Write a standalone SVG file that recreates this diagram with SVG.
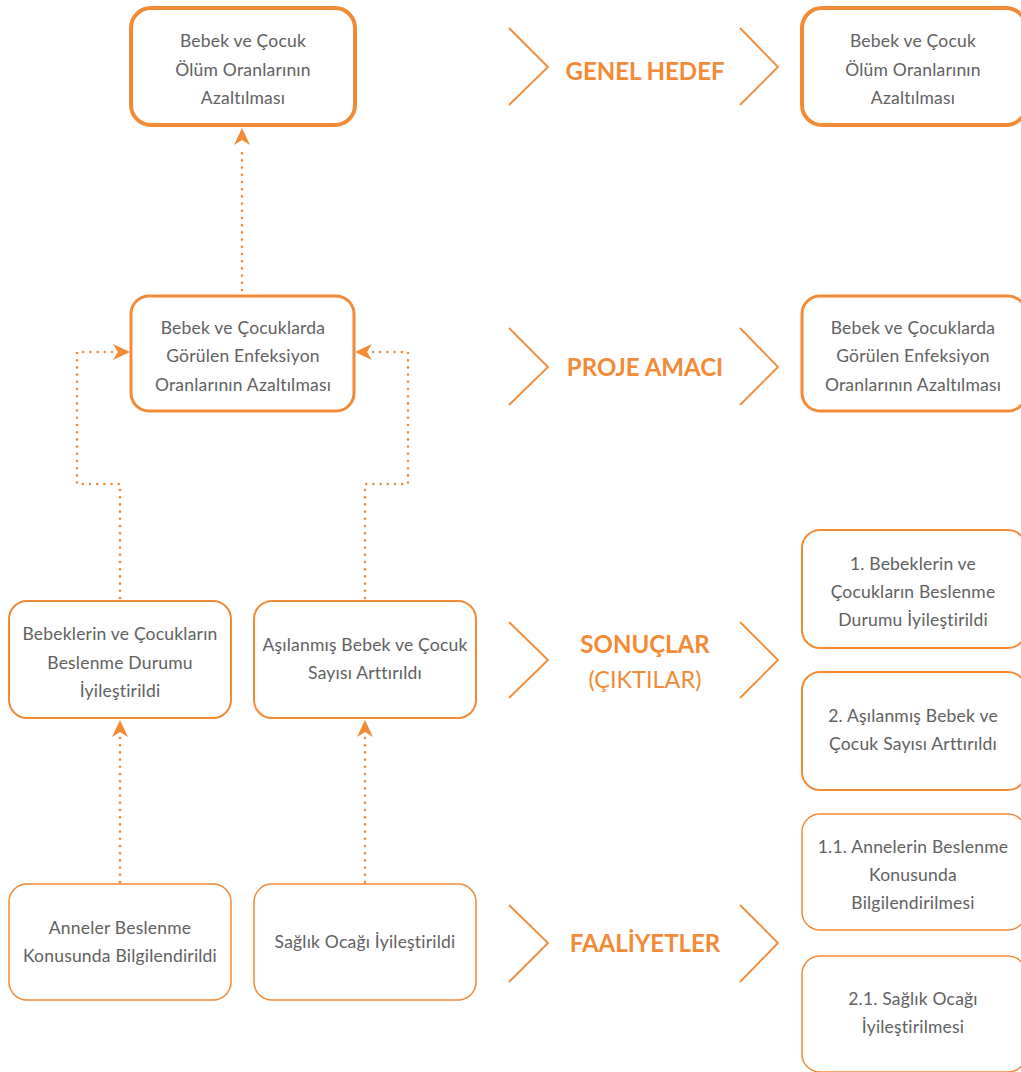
<svg xmlns="http://www.w3.org/2000/svg" width="1021" height="1072" viewBox="0 0 1021 1072">
  <style>
    .box { fill: #ffffff; stroke: #F28A36; }
    .w4 { stroke-width: 4; }
    .w3 { stroke-width: 3; }
    .w2 { stroke-width: 2; }
    .w1 { stroke-width: 1.5; }
    .t { font-family: Lato, "Open Sans", sans-serif; font-size: 17.5px; letter-spacing: 0.2px; fill: #616161; text-anchor: middle; }
    .lbl { font-family: Lato, "Open Sans", sans-serif; font-size: 24px; font-weight: bold; fill: #F28A36; text-anchor: middle; }
    .sub { font-family: Lato, "Open Sans", sans-serif; font-size: 23.5px; fill: #F28A36; text-anchor: middle; }
    .chev { fill: none; stroke: #F28A36; stroke-width: 1.8; }
    .dot { fill: none; stroke: #F28A36; stroke-width: 2.6; stroke-linecap: round; stroke-dasharray: 0 7.2; }
    .head { fill: #F28A36; }
  </style>

  <!-- connectors -->
  <g id="connectors">
    <path class="dot" d="M242 290 V146"/>
    <path class="head" d="M242 128 L250 145 L242 140 L234 145 Z"/>
    <path class="dot" d="M120 598 V484 H77 V352 H112"/>
    <path class="head" d="M130 352 L113 344 L118 352 L113 360 Z"/>
    <path class="dot" d="M365 598 V484 H408 V352 H373"/>
    <path class="head" d="M355 352 L372 344 L367 352 L372 360 Z"/>
    <path class="dot" d="M120 882 V738"/>
    <path class="head" d="M120 720 L128 737 L120 732 L112 737 Z"/>
    <path class="dot" d="M365 882 V738"/>
    <path class="head" d="M365 720 L373 737 L365 732 L357 737 Z"/>
  </g>

  <!-- left column -->
  <g id="goal">
    <rect class="box w4" x="131" y="8" width="224" height="117" rx="20"/>
    <text class="t" x="243" y="47">Bebek ve Çocuk</text>
    <text class="t" x="243" y="76">Ölüm Oranlarının</text>
    <text class="t" x="243" y="104">Azaltılması</text>
  </g>
  <g id="purpose">
    <rect class="box w3" x="131" y="296" width="223" height="115" rx="18"/>
    <text class="t" x="243" y="334">Bebek ve Çocuklarda</text>
    <text class="t" x="243" y="362">Görülen Enfeksiyon</text>
    <text class="t" x="243" y="391">Oranlarının Azaltılması</text>
  </g>
  <g id="result-nutrition">
    <rect class="box w2" x="9" y="601" width="222" height="117" rx="18"/>
    <text class="t" x="120" y="640">Bebeklerin ve Çocukların</text>
    <text class="t" x="120" y="669">Beslenme Durumu</text>
    <text class="t" x="120" y="697">İyileştirildi</text>
  </g>
  <g id="result-vaccination">
    <rect class="box w2" x="254" y="601" width="222" height="117" rx="18"/>
    <text class="t" x="365" y="651">Aşılanmış Bebek ve Çocuk</text>
    <text class="t" x="365" y="679">Sayısı Arttırıldı</text>
  </g>
  <g id="activity-mothers">
    <rect class="box w1" x="9" y="884" width="222" height="116" rx="18"/>
    <text class="t" x="120" y="934">Anneler Beslenme</text>
    <text class="t" x="120" y="962">Konusunda Bilgilendirildi</text>
  </g>
  <g id="activity-clinic">
    <rect class="box w1" x="254" y="884" width="222" height="116" rx="18"/>
    <text class="t" x="365" y="948">Sağlık Ocağı İyileştirildi</text>
  </g>

  <!-- middle labels with chevrons -->
  <g id="label-goal">
    <path class="chev" d="M509 28 L548 67 L509 105"/>
    <text class="lbl" x="645" y="80">GENEL HEDEF</text>
    <path class="chev" d="M740 28 L778 67 L740 105"/>
  </g>
  <g id="label-purpose">
    <path class="chev" d="M509 328 L548 367 L509 405"/>
    <text class="lbl" x="645" y="376">PROJE AMACI</text>
    <path class="chev" d="M740 328 L778 367 L740 405"/>
  </g>
  <g id="label-results">
    <path class="chev" d="M509 622 L548 660 L509 698"/>
    <text class="lbl" x="645" y="653">SONUÇLAR</text>
    <text class="sub" x="645" y="688">(ÇIKTILAR)</text>
    <path class="chev" d="M740 622 L778 660 L740 698"/>
  </g>
  <g id="label-activities">
    <path class="chev" d="M509 905 L548 943 L509 982"/>
    <text class="lbl" x="645" y="952">FAALİYETLER</text>
    <path class="chev" d="M740 905 L778 943 L740 982"/>
  </g>

  <!-- right column summary -->
  <g id="summary-goal">
    <rect class="box w4" x="802" y="8" width="224" height="117" rx="20"/>
    <text class="t" x="913" y="47">Bebek ve Çocuk</text>
    <text class="t" x="913" y="76">Ölüm Oranlarının</text>
    <text class="t" x="913" y="104">Azaltılması</text>
  </g>
  <g id="summary-purpose">
    <rect class="box w3" x="802" y="296" width="224" height="115" rx="18"/>
    <text class="t" x="913" y="334">Bebek ve Çocuklarda</text>
    <text class="t" x="913" y="362">Görülen Enfeksiyon</text>
    <text class="t" x="913" y="391">Oranlarının Azaltılması</text>
  </g>
  <g id="summary-result-1">
    <rect class="box w2" x="802" y="530" width="224" height="118" rx="18"/>
    <text class="t" x="913" y="570">1. Bebeklerin ve</text>
    <text class="t" x="913" y="598">Çocukların Beslenme</text>
    <text class="t" x="913" y="626">Durumu İyileştirildi</text>
  </g>
  <g id="summary-result-2">
    <rect class="box w2" x="802" y="672" width="224" height="118" rx="18"/>
    <text class="t" x="913" y="722">2. Aşılanmış Bebek ve</text>
    <text class="t" x="913" y="750">Çocuk Sayısı Arttırıldı</text>
  </g>
  <g id="summary-activity-1">
    <rect class="box w1" x="802" y="814" width="224" height="116" rx="18"/>
    <text class="t" x="913" y="853">1.1. Annelerin Beslenme</text>
    <text class="t" x="913" y="881">Konusunda</text>
    <text class="t" x="913" y="909">Bilgilendirilmesi</text>
  </g>
  <g id="summary-activity-2">
    <rect class="box w1" x="802" y="956" width="224" height="116" rx="18"/>
    <text class="t" x="913" y="1005">2.1. Sağlık Ocağı</text>
    <text class="t" x="913" y="1033">İyileştirilmesi</text>
  </g>
</svg>
